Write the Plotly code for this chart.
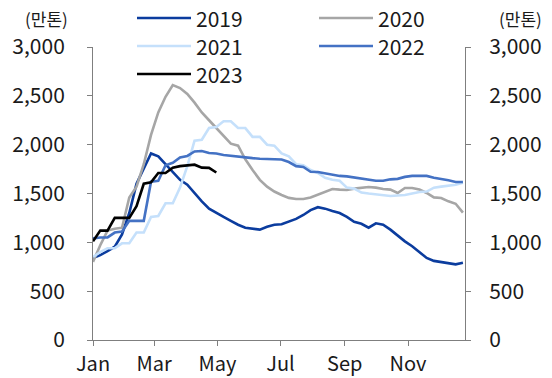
import pandas as pd
import plotly.graph_objects as go

# Weekly series (만톤), one value per week starting Jan 1
weeks = pd.date_range("2023-01-01", periods=52, freq="7D")

y2019 = [840, 870, 910, 955, 1080, 1300, 1600, 1760, 1910, 1880, 1800, 1720, 1640, 1590,
         1500, 1420, 1345, 1300, 1260, 1220, 1180, 1150, 1140, 1130, 1160, 1180, 1185, 1210,
         1240, 1280, 1330, 1360, 1345, 1320, 1300, 1260, 1210, 1190, 1150, 1195, 1180, 1130,
         1070, 1010, 960, 900, 840, 810, 800, 790, 775, 790]
y2020 = [800, 970, 1120, 1140, 1150, 1460, 1570, 1800, 2100, 2330, 2490, 2610, 2580, 2520,
         2430, 2330, 2250, 2170, 2080, 2010, 1990, 1850, 1740, 1640, 1570, 1520, 1485, 1455,
         1444, 1444, 1460, 1490, 1520, 1546, 1540, 1536, 1550, 1556, 1567, 1560, 1546, 1540,
         1505, 1556, 1556, 1540, 1505, 1460, 1454, 1420, 1395, 1305]
y2021 = [850, 900, 940, 940, 990, 990, 1100, 1100, 1260, 1270, 1400, 1400, 1560, 1780,
         2040, 2050, 2170, 2180, 2240, 2240, 2170, 2170, 2080, 2080, 2000, 1990, 1910, 1880,
         1800, 1790, 1740, 1710, 1660, 1640, 1630, 1560, 1550, 1510, 1500, 1490, 1480, 1475,
         1480, 1485, 1500, 1515, 1520, 1560, 1570, 1580, 1590, 1610]
y2022 = [1040, 1050, 1050, 1100, 1110, 1220, 1220, 1220, 1620, 1630, 1790, 1815, 1870, 1885,
         1930, 1935, 1915, 1910, 1895, 1885, 1878, 1870, 1862, 1856, 1852, 1850, 1848, 1822,
         1780, 1772, 1722, 1720, 1705, 1690, 1680, 1675, 1665, 1650, 1640, 1630, 1630, 1645,
         1650, 1670, 1680, 1680, 1680, 1662, 1652, 1635, 1618, 1618]
y2023 = [1010, 1120, 1120, 1250, 1250, 1250, 1370, 1600, 1615, 1710, 1710, 1765, 1780, 1790,
         1795, 1765, 1762, 1715]

series = [
    ("2019", y2019, "#0b3c9e"),
    ("2020", y2020, "#a6a6a6"),
    ("2021", y2021, "#c5e0fb"),
    ("2022", y2022, "#4472c4"),
    ("2023", y2023, "#000000"),
]

y_ticks = [0, 500, 1000, 1500, 2000, 2500, 3000]
y_tick_text = [f"{v:,}" for v in y_ticks]

FONT = "Noto Sans CJK KR"
TXT = "#1a1a1a"
AX = "#7f7f7f"
FS = 21

fig = go.Figure()
for name, vals, color in series:
    fig.add_trace(go.Scatter(
        x=weeks[:len(vals)], y=vals, mode="lines", name=name,
        line=dict(color=color, width=2.6), showlegend=False,
    ))
# empty trace so the right-hand axis is rendered
fig.add_trace(go.Scatter(x=[], y=[], yaxis="y2", showlegend=False, hoverinfo="skip"))

# Two-column legend drawn as short line swatches with labels
W, H = 552, 378
ML, MR, MT, MB = 93, 87, 47, 38
pw, ph = W - ML - MR, H - MT - MB


def px_x(p):
    return (p - ML) / pw


def px_y(p):
    return (H - MB - p) / ph


legend_cols = [137, 319]
legend_rows = [18, 46, 74]
swatch = 54
for i, (name, vals, color) in enumerate(series):
    cx = legend_cols[i % 2]
    ry = legend_rows[i // 2]
    fig.add_shape(type="line", xref="paper", yref="paper",
                  x0=px_x(cx), x1=px_x(cx + swatch), y0=px_y(ry), y1=px_y(ry),
                  line=dict(color=color, width=2.6))
    fig.add_annotation(xref="paper", yref="paper", x=px_x(cx + swatch + 3), y=px_y(ry),
                       xanchor="left", yanchor="middle", text=name, showarrow=False,
                       font=dict(family=FONT, size=FS, color=TXT))

for ux in (46, 520):
    fig.add_annotation(xref="paper", yref="paper", x=px_x(ux), y=px_y(18),
                       xanchor="center", yanchor="middle", text="(만톤)", showarrow=False,
                       font=dict(family=FONT, size=17, color=TXT))

yaxis_common = dict(
    range=[0, 3000], tickvals=y_ticks, ticktext=y_tick_text,
    showgrid=False, zeroline=False, showline=True, linecolor=AX, linewidth=1,
    ticks="outside", ticklen=5, tickcolor=AX, tickwidth=1, automargin=False,
    tickfont=dict(family=FONT, size=FS, color=TXT), fixedrange=True,
)

fig.update_layout(
    width=W, height=H,
    margin=dict(l=ML, r=MR, t=MT, b=MB, autoexpand=False),
    paper_bgcolor="white", plot_bgcolor="white",
    font=dict(family=FONT, size=FS, color=TXT),
    xaxis=dict(
        range=["2023-01-01", "2023-12-26"], type="date",
        tickvals=pd.date_range("2023-01-01", periods=6, freq="2MS"),
        tickformat="%b", showgrid=False, zeroline=False,
        showline=True, linecolor=AX, linewidth=1, automargin=False,
        ticks="outside", ticklen=5, tickcolor=AX,
        tickfont=dict(family=FONT, size=20, color=TXT), ticklabelstandoff=1,
    ),
    yaxis=dict(**yaxis_common, ticklabelstandoff=18),
    yaxis2=dict(**yaxis_common, overlaying="y", side="right", anchor="x",
                ticklabelstandoff=14),
    showlegend=False,
)

fig.write_html("out.html")
